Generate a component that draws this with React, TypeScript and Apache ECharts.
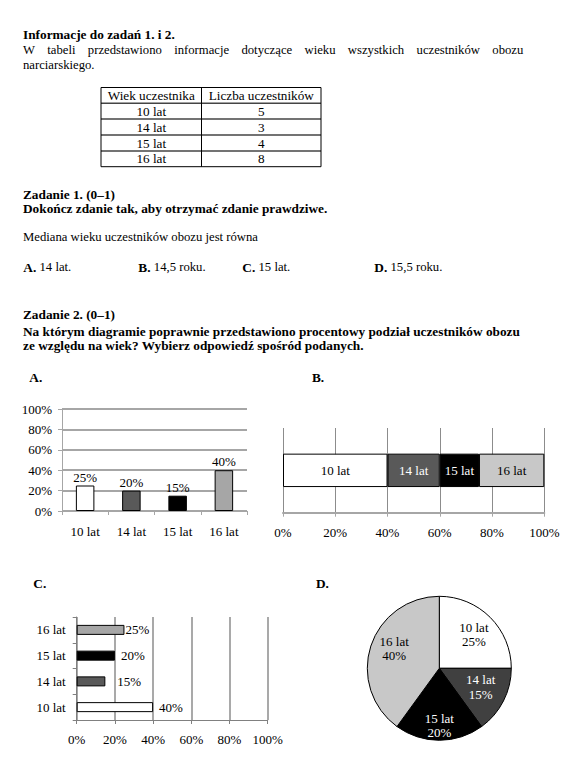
import React, { useEffect, useRef } from "react";
import * as echarts from "echarts";

// ---------- data ----------
const AGES = ["10 lat", "14 lat", "15 lat", "16 lat"];
const COUNTS = [5, 3, 4, 8];
const TABLE_HEAD = ["Wiek uczestnika", "Liczba uczestników"];
const ANSWER_LETTERS = ["A.", "B.", "C.", "D."];
const ANSWERS = ["14 lat.", "14,5 roku.", "15 lat.", "15,5 roku."];
const CHART_A = [25, 20, 15, 40];
const CHART_B = [40, 20, 15, 25];
const CHART_C = [40, 15, 20, 25];
const CHART_D = [25, 15, 20, 40];

// ---------- styles ----------
const FONT = "Liberation Serif";
const FS = 13;
const FS_BODY = 12.7;
const FS_BOLD = 13.3;
const FS_TABLE = 13.2;
const COLORS_A = ["#ffffff", "#595959", "#000000", "#a6a6a6"];
const COLORS_B = ["#ffffff", "#595959", "#000000", "#c8c8c8"];
const COLORS_C = ["#ffffff", "#595959", "#000000", "#a6a6a6"];
const COLORS_D = ["#ffffff", "#404040", "#000000", "#c8c8c8"];
const LABEL_B = ["#000", "#fff", "#fff", "#000"];
const LABEL_D = ["#000", "#fff", "#fff", "#000"];
const C_LABEL_GAP = [6, 12, 6, 1];
const D_LABEL_SHIFT = [
  [7, -6],
  [6.6, 1],
  [0, 18],
  [-8, -7.7],
];

function txt(x: number, y: number, text: string, bold = false, align = "left", size?: number) {
  const style: any = {
    text,
    fill: "#000",
    fontSize: size ?? (bold ? FS_BOLD : FS_BODY),
    fontFamily: FONT,
    align,
    verticalAlign: "middle",
  };
  if (bold) style.fontWeight = "bold";
  return { type: "text", x, y, silent: true, style };
}

function measure(word: string, bold: boolean) {
  const style: any = { text: word, fontSize: bold ? FS_BOLD : FS_BODY, fontFamily: FONT };
  if (bold) style.fontWeight = "bold";
  const t = new (echarts.graphic as any).Text({ style });
  return t.getBoundingRect().width;
}

function justify(line: string, y: number, x0: number, x1: number, bold = false) {
  const words = line.split(" ");
  const widths = words.map((w) => measure(w, bold));
  const total = widths.reduce((a, b) => a + b, 0);
  const gap = (x1 - x0 - total) / (words.length - 1);
  let x = x0;
  return words.map((w, i) => {
    const el = txt(x, y, w, bold);
    x += widths[i] + gap;
    return el;
  });
}

function buildGraphic() {
  const els: any[] = [];
  els.push(txt(23, 34, "Informacje do zadań 1. i 2.", true));
  els.push(
    ...justify(
      "W tabeli przedstawiono informacje dotyczące wieku wszystkich uczestników obozu",
      50,
      23,
      523.3
    )
  );
  els.push(txt(23, 65, "narciarskiego."));

  // table
  const tx0 = 101, tx1 = 321, tmid = 201.5;
  const rowsY = [87.5, 103.3, 119, 135, 151, 166.7];
  for (let i = 1; i < rowsY.length - 1; i++) {
    els.push({
      type: "line",
      silent: true,
      shape: { x1: tx0, y1: rowsY[i], x2: tx1, y2: rowsY[i] },
      style: { stroke: "#444", lineWidth: 1.5 },
    });
  }
  els.push({
    type: "rect",
    silent: true,
    shape: { x: tx0, y: rowsY[0], width: tx1 - tx0, height: rowsY[5] - rowsY[0] },
    style: { fill: "none", stroke: "#000", lineWidth: 1 },
  });
  els.push({
    type: "line",
    silent: true,
    shape: { x1: tmid, y1: rowsY[0], x2: tmid, y2: rowsY[5] },
    style: { stroke: "#000", lineWidth: 1 },
  });
  const c1 = (tx0 + tmid) / 2, c2 = (tmid + tx1) / 2;
  const rowC = (i: number) => (rowsY[i] + rowsY[i + 1]) / 2;
  els.push(txt(c1, rowC(0), TABLE_HEAD[0], false, "center", FS_TABLE));
  els.push(txt(c2, rowC(0), TABLE_HEAD[1], false, "center", FS_TABLE));
  AGES.forEach((a, i) => {
    els.push(txt(c1, rowC(i + 1), a, false, "center", FS_TABLE));
    els.push(txt(c2, rowC(i + 1), String(COUNTS[i]), false, "center", FS_TABLE));
  });

  els.push(txt(23, 194, "Zadanie 1. (0–1)", true));
  els.push(txt(23, 208.3, "Dokończ zdanie tak, aby otrzymać zdanie prawdziwe.", true));
  els.push(txt(23, 237.3, "Mediana wieku uczestników obozu jest równa"));
  const ansX = [23.3, 138.3, 242.3, 374.3];
  ANSWERS.forEach((a, i) => {
    const lw = measure(ANSWER_LETTERS[i], true);
    els.push(txt(ansX[i], 267.3, ANSWER_LETTERS[i], true));
    els.push(txt(ansX[i] + lw + 3.3, 267.3, a));
  });
  els.push(txt(23, 314.3, "Zadanie 2. (0–1)", true));
  els.push(
    txt(23, 331, "Na którym diagramie poprawnie przedstawiono procentowy podział uczestników obozu", true)
  );
  els.push(txt(23, 345.7, "ze względu na wiek? Wybierz odpowiedź spośród podanych.", true));

  els.push(txt(29.3, 377, "A.", true));
  els.push(txt(312, 377, "B.", true));
  els.push(txt(33.3, 583, "C.", true));
  els.push(txt(316, 583, "D.", true));
  return els;
}

const axisLabelBase = { color: "#000", fontSize: FS, fontFamily: FONT };

export default function App() {
  const ref = useRef<HTMLDivElement>(null);
  useEffect(() => {
    document.body.style.margin = "0";
    const chart = echarts.init(ref.current!, null, { renderer: "svg" });
    const option: any = {
      animation: false,
      graphic: { elements: buildGraphic() },
      grid: [
        { left: 62, top: 409, width: 185, height: 102 },
        { left: 283, top: 428, width: 261.3, height: 84.7 },
        { left: 76.7, top: 617, width: 191, height: 103 },
      ],
      xAxis: [
        {
          gridIndex: 0,
          type: "category",
          data: AGES,
          axisLine: { lineStyle: { color: "#a6a6a6", width: 1 } },
          axisTick: { show: true, length: 4, lineStyle: { color: "#a6a6a6" } },
          axisLabel: { ...axisLabelBase, margin: 14 },
        },
        {
          gridIndex: 1,
          type: "value",
          min: 0,
          max: 100,
          interval: 20,
          splitLine: { show: true, lineStyle: { color: "#8c8c8c", width: 1 } },
          axisLine: { show: true, lineStyle: { color: "#a6a6a6", width: 2 } },
          axisTick: { show: true, length: 4, lineStyle: { color: "#a6a6a6" } },
          axisLabel: { ...axisLabelBase, margin: 13, formatter: "{value}%" },
        },
        {
          gridIndex: 2,
          type: "value",
          min: 0,
          max: 100,
          interval: 20,
          splitLine: { show: true, lineStyle: { color: "#8c8c8c", width: 1.5 } },
          axisLine: { show: true, lineStyle: { color: "#808080", width: 1 } },
          axisTick: { show: true, length: 4, lineStyle: { color: "#808080" } },
          axisLabel: { ...axisLabelBase, margin: 13, formatter: "{value}%" },
        },
      ],
      yAxis: [
        {
          gridIndex: 0,
          type: "value",
          min: 0,
          max: 100,
          interval: 20,
          splitLine: { show: true, lineStyle: { color: "#a6a6a6", width: 2 } },
          axisLine: { show: true, lineStyle: { color: "#a6a6a6", width: 1 } },
          axisTick: { show: true, length: 4, lineStyle: { color: "#a6a6a6" } },
          axisLabel: { ...axisLabelBase, margin: 10, formatter: "{value}%" },
        },
        {
          gridIndex: 1,
          type: "category",
          data: ["B"],
          axisLine: { show: false },
          axisTick: { show: false },
          axisLabel: { show: false },
        },
        {
          gridIndex: 2,
          type: "category",
          data: AGES,
          axisLine: { show: true, lineStyle: { color: "#808080", width: 1 } },
          axisTick: { show: true, length: 4, lineStyle: { color: "#808080" } },
          axisLabel: { ...axisLabelBase, margin: 11 },
        },
      ],
      series: [
        {
          type: "bar",
          xAxisIndex: 0,
          yAxisIndex: 0,
          barWidth: 18.5,
          data: CHART_A.map((v, i) => ({ value: v, itemStyle: { color: COLORS_A[i] } })),
          itemStyle: { borderColor: "#000", borderWidth: 1 },
          label: { show: true, position: "top", distance: 2, formatter: "{c}%", ...axisLabelBase },
        },
        ...AGES.map((a, i) => ({
          type: "bar",
          name: a,
          xAxisIndex: 1,
          yAxisIndex: 1,
          stack: "b",
          barWidth: 33.4,
          data: [CHART_B[i]],
          itemStyle: { color: COLORS_B[i], borderColor: "#000", borderWidth: 1 },
          label: {
            show: true,
            position: "inside",
            formatter: "{a}",
            fontSize: FS,
            fontFamily: FONT,
            color: LABEL_B[i],
          },
        })),
        {
          type: "bar",
          xAxisIndex: 2,
          yAxisIndex: 2,
          barWidth: 10,
          data: CHART_C.map((v, i) => ({
            value: v,
            itemStyle: { color: COLORS_C[i] },
            label: { distance: C_LABEL_GAP[i] },
          })),
          itemStyle: { borderColor: "#000", borderWidth: 1 },
          label: { show: true, position: "right", formatter: "{c}%", ...axisLabelBase },
        },
        {
          type: "pie",
          center: [439.3, 668.3],
          radius: 72,
          startAngle: 90,
          clockwise: true,
          avoidLabelOverlap: false,
          data: AGES.map((a, i) => ({
            name: a,
            value: CHART_D[i],
            itemStyle: { color: COLORS_D[i] },
            label: { color: LABEL_D[i] },
          })),
          itemStyle: { borderColor: "#000", borderWidth: 1 },
          label: {
            show: true,
            position: "inside",
            formatter: "{b}\n{c}%",
            fontSize: FS,
            fontFamily: FONT,
            lineHeight: 14.5,
          },
          labelLine: { show: false },
          labelLayout: (p: any) => ({
            dx: D_LABEL_SHIFT[p.dataIndex][0],
            dy: D_LABEL_SHIFT[p.dataIndex][1],
          }),
          emphasis: { disabled: true },
        },
      ],
    };
    chart.setOption(option);
    return () => chart.dispose();
  }, []);
  return <div ref={ref} style={{ width: 581, height: 765 }} />;
}
